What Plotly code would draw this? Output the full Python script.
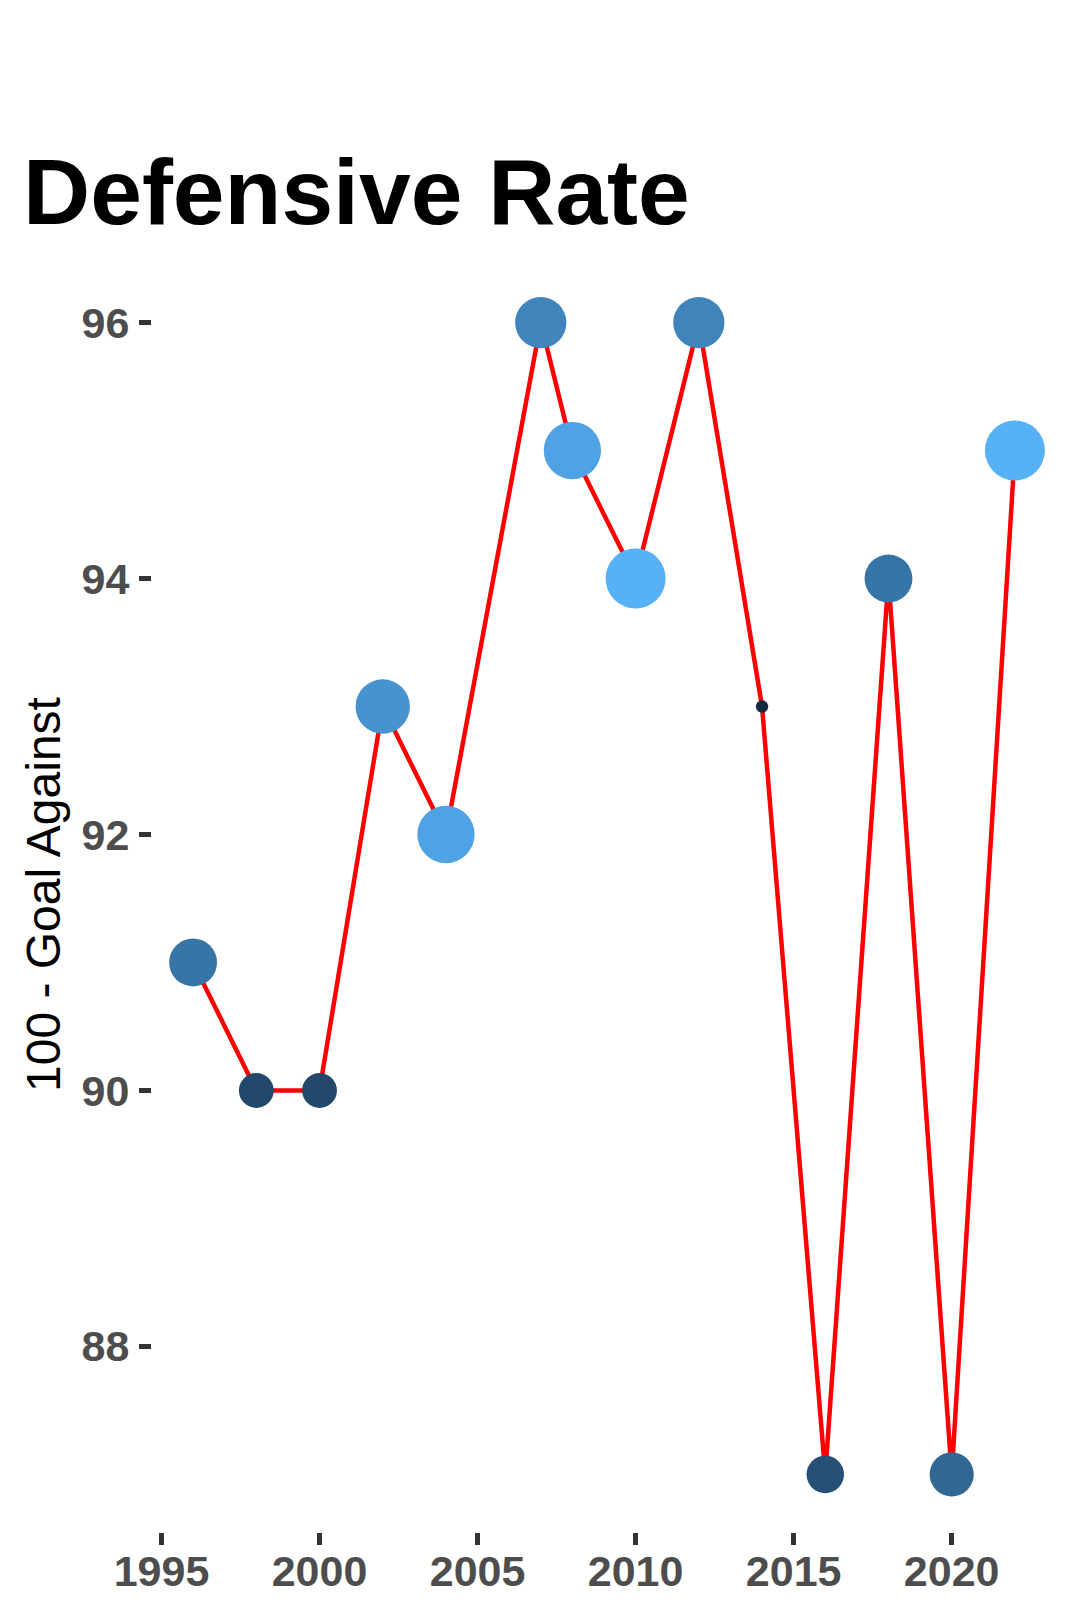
import plotly.graph_objects as go

# season year, 100 - goals against, and the secondary value mapped to size/colour
years = [1996, 1998, 2000, 2002, 2004, 2007, 2008, 2010, 2012, 2014, 2016, 2018, 2020, 2022]
defensive_rate = [91, 90, 90, 93, 92, 96, 95, 94, 96, 93, 87, 94, 87, 95]
score = [12, 6, 6, 16, 18, 14, 18, 20, 14, 2, 7, 12, 10, 20]

x_ticks = [1995, 2000, 2005, 2010, 2015, 2020]
y_ticks = [88, 90, 92, 94, 96]

# ggplot-like area scale: diameter grows with sqrt of rescaled value
lo, hi = min(score), max(score)
sizes = [2 * (6.2 + 23.8 * ((s - lo) / (hi - lo)) ** 0.5) for s in score]

fig = go.Figure()
fig.add_trace(go.Scatter(
    x=years, y=defensive_rate,
    mode='lines+markers',
    line=dict(color='#FF0000', width=4.5),
    marker=dict(
        size=sizes,
        color=score,
        colorscale=[[0, '#132B43'], [1, '#56B1F7']],
        cmin=lo, cmax=hi,
        showscale=False,
        line=dict(width=0),
        opacity=1,
    ),
    showlegend=False,
))

tick_font = dict(family='Liberation Sans', size=43, color='#4D4D4D', weight='bold')

fig.update_xaxes(
    range=[1994.7, 2023.3], tickvals=x_ticks,
    showgrid=False, zeroline=False, showline=False,
    ticks='outside', ticklen=12, tickwidth=5, tickcolor='#333333',
    tickfont=tick_font, ticklabelstandoff=-11,
)
fig.update_yaxes(
    range=[86.55, 96.45], tickvals=y_ticks,
    showgrid=False, zeroline=False, showline=False,
    ticks='outside', ticklen=12, tickwidth=5, tickcolor='#333333',
    tickfont=tick_font, ticklabelstandoff=1,
)

fig.add_annotation(
    text='100 - Goal Against', textangle=-90,
    xref='paper', yref='paper',
    x=(44 - 152) / 904, y=(1532 - 895) / 1267,
    xanchor='center', yanchor='middle', showarrow=False,
    font=dict(family='Liberation Sans', size=48, color='#000000'),
)

# page body adds an 8px offset, so the figure is 8px smaller and shifted back
fig.update_layout(
    width=1072, height=1612,
    margin=dict(l=144, r=24, t=257, b=88),
    paper_bgcolor='white', plot_bgcolor='white',
    title=dict(
        text='Defensive Rate',
        font=dict(family='Liberation Sans', size=93, color='#000000', weight='bold'),
        xref='container', yref='container',
        x=15 / 1072, xanchor='left',
        y=1 - 216 / 1612, yanchor='bottom',
    ),
)

fig.write_html('out.html')
